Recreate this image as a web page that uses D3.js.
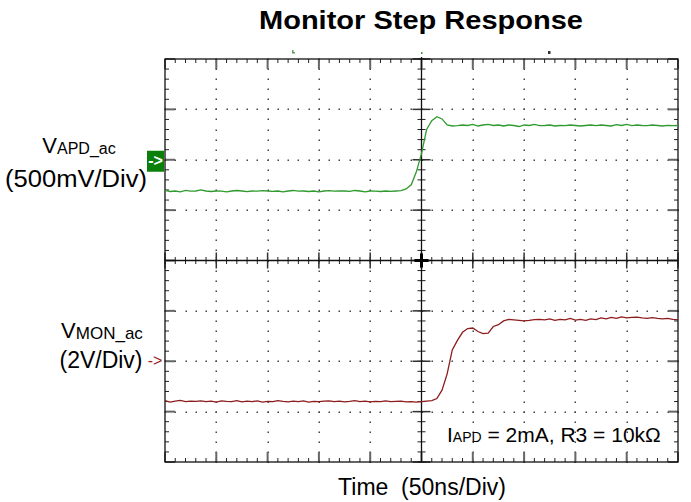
<!DOCTYPE html>
<html><head><meta charset="utf-8">
<script src="https://cdn.jsdelivr.net/npm/d3@7"></script>
<style>body{margin:0;background:#fff}svg{display:block}text{font-family:"Liberation Sans",Arial,sans-serif}</style>
</head><body><svg id="c" width="691" height="502"></svg>
<script>
// time in ns (50 ns/div)
const timeNs = [0,5,10,15,20,25,30,35,40,45,50,55,60,65,70,75,80,85,90,95,100,105,110,115,120,125,130,135,140,145,150,155,160,165,170,175,180,185,190,195,200,205,210,215,220,225,230,235,240,245,250,255,260,265,270,275,280,285,290,295,300,305,310,315,320,325,330,335,340,345,350,355,360,365,370,375,380,385,390,395,400,405,410,415,420,425,430,435,440,445,450,455,460,465,470,475,480,485,490,495,500];
// V_APD_ac (V), 500 mV/div
const vApd = [-0.305,-0.315,-0.31,-0.318,-0.305,-0.312,-0.31,-0.30,-0.31,-0.315,-0.31,-0.312,-0.318,-0.31,-0.305,-0.31,-0.316,-0.31,-0.312,-0.306,-0.31,-0.314,-0.31,-0.318,-0.31,-0.305,-0.312,-0.31,-0.315,-0.31,-0.318,-0.31,-0.306,-0.312,-0.31,-0.31,-0.314,-0.305,-0.31,-0.318,-0.31,-0.312,-0.315,-0.31,-0.313,-0.31,-0.306,-0.29,-0.248,-0.12,0.06,0.30,0.387,0.427,0.405,0.345,0.335,0.338,0.345,0.34,0.35,0.335,0.345,0.352,0.34,0.345,0.335,0.345,0.34,0.33,0.345,0.34,0.35,0.338,0.34,0.345,0.335,0.34,0.338,0.345,0.34,0.335,0.34,0.345,0.338,0.345,0.34,0.335,0.348,0.34,0.35,0.338,0.345,0.34,0.338,0.345,0.34,0.335,0.342,0.338,0.34];
// V_MON_ac (V), 2 V/div
const vMon = [-1.56,-1.62,-1.58,-1.55,-1.6,-1.58,-1.59,-1.57,-1.6,-1.58,-1.62,-1.57,-1.59,-1.6,-1.56,-1.61,-1.58,-1.6,-1.57,-1.62,-1.59,-1.6,-1.56,-1.59,-1.61,-1.58,-1.6,-1.57,-1.62,-1.59,-1.6,-1.58,-1.57,-1.6,-1.58,-1.61,-1.59,-1.56,-1.6,-1.58,-1.61,-1.59,-1.6,-1.57,-1.6,-1.59,-1.58,-1.61,-1.6,-1.62,-1.6,-1.58,-1.56,-1.48,-1.15,-0.5,0.45,0.83,1.15,1.3,1.32,1.18,1.1,1.12,1.38,1.45,1.6,1.66,1.64,1.62,1.6,1.62,1.65,1.66,1.64,1.68,1.62,1.66,1.64,1.7,1.63,1.66,1.62,1.68,1.65,1.72,1.68,1.74,1.7,1.76,1.72,1.74,1.75,1.72,1.7,1.73,1.7,1.68,1.7,1.66,1.65];
const titleText = "Monitor Step Response";
const xLabel = "Time  (50ns/Div)";
const apdScaleLabel = "(500mV/Div)";
const monScaleLabel = "(2V/Div)";

const svg = d3.select("#c");
const L=165,R=678,T=59,B=462;
const x = d3.scaleLinear().domain([0,500]).range([L,R]);
const yDiv = d3.scaleLinear().domain([0,8]).range([B,T]);
const yApd = d3.scaleLinear().domain([-3,1]).range([B,T]);
const yMon = d3.scaleLinear().domain([-4,12]).range([B,T]);
const xMaj = x.ticks(10), xMin = x.ticks(50);
const yMaj = yDiv.ticks(8), yMin = yDiv.ticks(40);
const cx = x(250), cy = yDiv(4);

// title
svg.append("text").attr("x",421).attr("y",29).attr("text-anchor","middle")
  .attr("font-size",25).attr("font-weight","bold").attr("textLength",324).attr("lengthAdjust","spacingAndGlyphs").text(titleText);

const g = svg.append("g");
// dotted grid
const dots=[];
xMaj.forEach(t=>{ if(t===0||t===500||t===250) return; yMin.forEach(d=>dots.push([x(t),yDiv(d)])); });
yMaj.forEach(d=>{ if(d===0||d===8||d===4) return; xMin.forEach(t=>dots.push([x(t),yDiv(d)])); });
g.selectAll("rect.dot").data(dots).join("rect").attr("class","dot")
  .attr("x",d=>Math.round(d[0])-0.5).attr("y",d=>Math.round(d[1])-0.5).attr("width",1.5).attr("height",1.5).attr("fill","#444");

// border ticks
const tk = g.append("g").attr("stroke","#222").attr("stroke-width",1);
xMin.forEach(t=>{ const X=x(t);
  tk.append("line").attr("x1",X).attr("x2",X).attr("y1",T).attr("y2",T+4);
  tk.append("line").attr("x1",X).attr("x2",X).attr("y1",B).attr("y2",B-4);
  tk.append("line").attr("x1",X).attr("x2",X).attr("y1",cy-3.5).attr("y2",cy+3.5);
});
yMin.forEach(d=>{ const Y=yDiv(d);
  tk.append("line").attr("y1",Y).attr("y2",Y).attr("x1",L).attr("x2",L+4);
  tk.append("line").attr("y1",Y).attr("y2",Y).attr("x1",R).attr("x2",R-4);
  tk.append("line").attr("y1",Y).attr("y2",Y).attr("x1",cx-4).attr("x2",cx+4);
});
const mk = g.append("g").attr("stroke","#666").attr("stroke-width",2);
xMaj.forEach(t=>{ const X=x(t);
  mk.append("line").attr("x1",X).attr("x2",X).attr("y1",T).attr("y2",T+10);
  mk.append("line").attr("x1",X).attr("x2",X).attr("y1",B).attr("y2",B-10);
  mk.append("line").attr("x1",X).attr("x2",X).attr("y1",cy-8).attr("y2",cy+8).attr("stroke","#333").attr("stroke-width",1.5);
});
yMaj.forEach(d=>{ const Y=yDiv(d);
  mk.append("line").attr("y1",Y).attr("y2",Y).attr("x1",L).attr("x2",L+10);
  mk.append("line").attr("y1",Y).attr("y2",Y).attr("x1",R).attr("x2",R-10);
  mk.append("line").attr("y1",Y).attr("y2",Y).attr("x1",cx-9).attr("x2",cx+9).attr("stroke","#333").attr("stroke-width",1.5);
});
// center axes
g.append("line").attr("x1",L).attr("x2",R).attr("y1",cy).attr("y2",cy).attr("stroke","#111").attr("stroke-width",1.3);
g.append("line").attr("x1",cx).attr("x2",cx).attr("y1",T-2).attr("y2",B).attr("stroke","#111").attr("stroke-width",1.3);
g.append("line").attr("x1",cx-7).attr("x2",cx+7).attr("y1",cy).attr("y2",cy).attr("stroke","#000").attr("stroke-width",3);
g.append("line").attr("x1",cx).attr("x2",cx).attr("y1",cy-7).attr("y2",cy+7).attr("stroke","#000").attr("stroke-width",3);
// frame
g.append("rect").attr("x",L).attr("y",T).attr("width",R-L).attr("height",B-T).attr("fill","none").attr("stroke","#111").attr("stroke-width",1.3);

// traces
const apdLine = d3.line().x((d,i)=>x(timeNs[i])).y(d=>yApd(d));
const monLine = d3.line().x((d,i)=>x(timeNs[i])).y(d=>yMon(d));
svg.append("path").datum(vApd).attr("d",apdLine).attr("fill","none").attr("stroke","#2f9a2f").attr("stroke-width",1.3);
svg.append("path").datum(vMon).attr("d",monLine).attr("fill","none").attr("stroke","#8e1c1c").attr("stroke-width",1.3);

// top markers
svg.append("rect").attr("x",292).attr("y",50).attr("width",1.5).attr("height",3).attr("fill","#6a9a6a");
svg.append("rect").attr("x",292).attr("y",52).attr("width",3).attr("height",1.5).attr("fill","#6a9a6a");
svg.append("rect").attr("x",cx-0.5).attr("y",52).attr("width",1.5).attr("height",2).attr("fill","#3a9a3a");
svg.append("rect").attr("x",548).attr("y",51).attr("width",2.5).attr("height",3).attr("fill","#333");

// channel markers
const y0a = yApd(0), y0m = yMon(0);
svg.append("rect").attr("x",147).attr("y",y0a-9).attr("width",17).attr("height",21).attr("fill","#0a800a");
svg.append("text").attr("x",155.5).attr("y",y0a+6).attr("text-anchor","middle").attr("font-size",16).attr("font-weight","bold").attr("fill","#fff").text("->");
svg.append("text").attr("x",155).attr("y",y0m+5).attr("text-anchor","middle").attr("font-size",16).attr("fill","#9a1a1a").text("->");

// channel labels
const la = svg.append("text").attr("x",79).attr("y",153).attr("text-anchor","middle").attr("font-size",22);
la.append("tspan").text("V");
la.append("tspan").attr("font-size",16).attr("dy",1).text("APD_ac");
svg.append("text").attr("x",76).attr("y",187).attr("text-anchor","middle").attr("font-size",23)
  .attr("textLength",142).attr("lengthAdjust","spacingAndGlyphs").text(apdScaleLabel);
const lm = svg.append("text").attr("x",102).attr("y",338).attr("text-anchor","middle").attr("font-size",22);
lm.append("tspan").text("V");
lm.append("tspan").attr("font-size",17).attr("dy",1).text("MON_ac");
svg.append("text").attr("x",101).attr("y",368).attr("text-anchor","middle").attr("font-size",23).text(monScaleLabel);

// annotation
const an = svg.append("text").attr("x",447).attr("y",442).attr("font-size",21);
an.append("tspan").text("I");
an.append("tspan").attr("font-size",14).text("APD");
an.append("tspan").text(" = 2mA, R3 = 10kΩ");

// x label
svg.append("text").attr("x",422).attr("y",495).attr("text-anchor","middle").attr("font-size",23).style("white-space","pre").text(xLabel);
</script></body></html>
